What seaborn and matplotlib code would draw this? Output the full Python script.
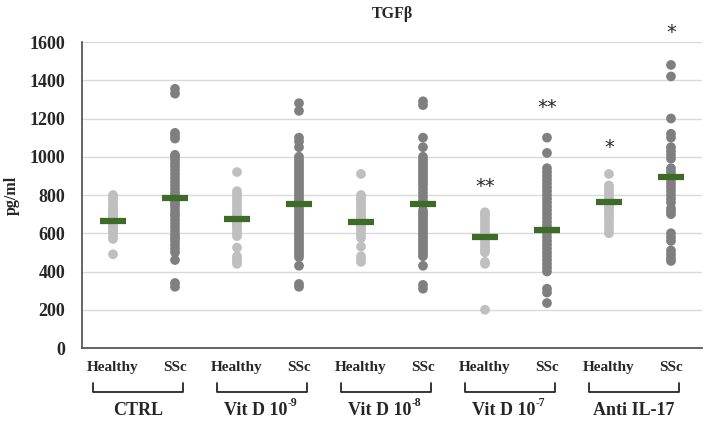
import numpy as np
import pandas as pd
import seaborn as sns
import matplotlib.pyplot as plt

# group label: (main text, superscript)
conditions = [("CTRL", ""), ("Vit D 10", "-9"), ("Vit D 10", "-8"),
              ("Vit D 10", "-7"), ("Anti IL-17", "")]
status = ["Healthy", "SSc"]

ctrl_h = [800, 790, 775, 760, 745, 730, 720, 710, 700, 690, 680, 670, 660, 650,
          640, 630, 620, 610, 600, 580, 570, 490]
ctrl_s = [1355, 1330, 1125, 1110, 1095, 1010, 1000, 985, 965, 950, 930, 910, 890,
          870, 850, 830, 810, 795, 780, 770, 755, 740, 720, 700, 690, 670, 650,
          630, 610, 590, 575, 560, 540, 520, 500, 460, 340, 320]
vitd9_h = [920, 820, 805, 790, 775, 760, 745, 730, 715, 700, 690, 680, 670, 660,
           650, 640, 630, 615, 600, 585, 525, 480, 465, 450, 440]
vitd9_s = [1280, 1240, 1100, 1080, 1050, 1000, 985, 970, 955, 940, 925, 910, 895,
           880, 865, 850, 835, 820, 805, 790, 775, 760, 745, 730, 715, 700, 685,
           670, 655, 640, 625, 610, 595, 580, 565, 550, 535, 520, 505, 490, 475,
           430, 335, 320]
vitd8_h = [910, 800, 785, 770, 755, 740, 725, 710, 695, 680, 665, 650, 640, 630,
           620, 605, 590, 575, 530, 480, 465, 450]
vitd8_s = [1290, 1270, 1100, 1050, 1000, 985, 970, 955, 940, 925, 910, 895, 880,
           865, 850, 830, 810, 790, 770, 750, 720, 705, 690, 675, 660, 645, 630,
           615, 600, 585, 570, 555, 540, 525, 510, 495, 480, 430, 330, 310]
vitd7_h = [710, 700, 690, 675, 660, 645, 630, 615, 600, 585, 570, 555, 540, 525,
           510, 500, 450, 440, 200]
vitd7_s = [1100, 1020, 940, 920, 900, 880, 860, 840, 820, 800, 780, 760, 740, 720,
           700, 680, 660, 640, 620, 600, 580, 560, 540, 520, 500, 480, 460, 440,
           420, 400, 310, 290, 235]
anti_h = [910, 850, 835, 820, 805, 790, 775, 760, 745, 730, 715, 700, 685, 670,
          650, 630, 610, 600]
anti_s = [1480, 1420, 1200, 1120, 1100, 1050, 1030, 1010, 990, 940, 920, 900, 880,
          860, 840, 820, 800, 780, 760, 730, 715, 700, 600, 580, 560, 510, 490,
          470, 455]

means = [665, 785, 672, 755, 660, 755, 580, 617, 765, 895]

# significance marks: (column index, y value, text)
stars = [(6, 842, "**"), (7, 1255, "**"), (8, 1046, "*"), (9, 1652, "*")]

groups = [ctrl_h, ctrl_s, vitd9_h, vitd9_s, vitd8_h, vitd8_s,
          vitd7_h, vitd7_s, anti_h, anti_s]

rows = []
for i, vals in enumerate(groups):
    for v in vals:
        rows.append({"col": f"c{i}", "status": status[i % 2], "value": v})
df = pd.DataFrame(rows)
order = [f"c{i}" for i in range(len(groups))]

sns.set_theme(style="white")
plt.rcParams["font.family"] = ["Liberation Serif", "DejaVu Serif"]
plt.rcParams["font.weight"] = "bold"

fig = plt.figure(figsize=(7.1, 4.23), dpi=100)
ax = fig.add_axes([0.1155, 0.1773, 0.8732, 0.7234])

sns.stripplot(data=df, x="col", y="value", hue="status", order=order,
              palette={"Healthy": "#BFBFBF", "SSc": "#7F7F7F"},
              jitter=False, size=7, linewidth=0, legend=False, ax=ax, zorder=3)

xs = np.arange(len(groups))
ax.hlines(means, xs - 0.21, xs + 0.21, colors="#3E6B27", linewidth=4.5, zorder=4)

for i, y, t in stars:
    ax.text(i, y, t, ha="center", va="center", fontsize=14,
            family="DejaVu Sans", fontweight="normal", clip_on=False)

ax.set_ylim(0, 1600)
ax.set_xlim(-0.5, len(groups) - 0.5)
ax.set_yticks(range(0, 1601, 200))
ax.yaxis.grid(True, color="#D9D9D9", linewidth=1)
ax.set_axisbelow(True)
for s in ["top", "right"]:
    ax.spines[s].set_visible(False)
for s in ["left", "bottom"]:
    ax.spines[s].set_color("#595959")
    ax.spines[s].set_linewidth(1.3)

ax.set_xticks(xs)
ax.set_xticklabels([status[i % 2] for i in xs], fontsize=11, fontweight="bold")
ax.tick_params(axis="x", length=0, pad=9)
ax.tick_params(axis="y", length=0, pad=12, labelsize=13)
for lab in ax.get_yticklabels():
    lab.set_fontweight("bold")

ax.set_xlabel("")
ax.set_ylabel("pg/ml", fontsize=11.5, fontweight="bold")
ax.yaxis.set_label_coords(-0.1, 0.5)
ax.set_title("TGFβ", fontsize=11.5, fontweight="bold", pad=17)

tr = ax.get_xaxis_transform()
for g, (name, sup) in enumerate(conditions):
    x0 = 2 * g - 0.33
    x1 = 2 * g + 1.13
    ax.plot([x0, x0, x1, x1], [-0.114, -0.144, -0.144, -0.114], color="#262626",
            linewidth=1.3, transform=tr, clip_on=False)
    xc = 2 * g + 0.4 - (0.1 if sup else 0)
    t = ax.text(xc, -0.205, name, transform=tr, ha="center", va="center",
                fontsize=13, fontweight="bold")
    if sup:
        ax.annotate(sup, xy=(1.0, 0.62), xycoords=t, ha="left", va="bottom",
                    fontsize=8.5, fontweight="bold")

fig.savefig("out.png", dpi=100)
